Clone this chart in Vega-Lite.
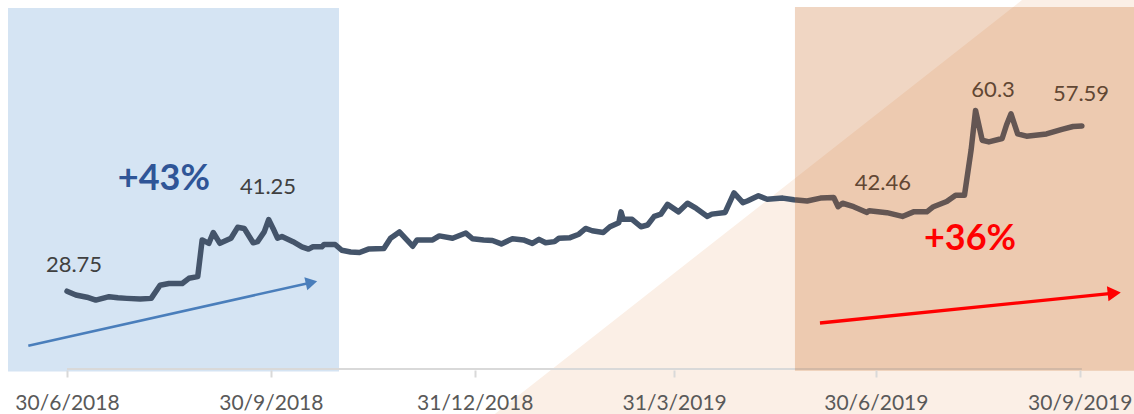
{
  "$schema": "https://vega.github.io/schema/vega-lite/v6.json",
  "width": 1134,
  "height": 370,
  "autosize": {"type": "none"},
  "padding": {"left": 0, "top": 0, "right": 0, "bottom": 44},
  "background": "white",
  "config": {"view": {"stroke": null}},
  "encoding": {
    "x": {
      "field": "date", "type": "temporal",
      "scale": {"type": "utc", "domain": [1527704928000, 1571918400000], "nice": false},
      "axis": {
        "values": [1530316800000, 1538265600000, 1546214400000, 1553990400000, 1561852800000, 1569801600000],
        "format": "%-d/%-m/%Y", "title": null, "domain": false, "grid": false,
        "ticks": true, "tickColor": "#d9d9d9", "tickSize": 7, "tickWidth": 2,
        "labelFont": "Lato", "labelFontSize": 21, "labelColor": "#595959", "labelPadding": 15,
        "labelFlush": false, "labelOverlap": false, "labelBound": false, "zindex": 1
      }
    },
    "y": {
      "field": "value", "type": "quantitative",
      "scale": {"domain": [15, 79.57], "zero": false, "nice": false},
      "axis": null
    }
  },
  "layer": [
    {
      "data": {"values": [{"date": "2018-06-03T09:00:00Z", "date2": "2018-10-30T18:00:00Z", "value": 78.18, "value2": 14.74}]},
      "mark": {"type": "rect", "color": "#d5e4f3"},
      "encoding": {"x2": {"field": "date2"}, "y2": {"field": "value2"}}
    },
    {
      "data": {"values": [
        {"date": "2019-01-09T02:00:00Z", "value": 7.32, "value2": 7.32},
        {"date": "2019-09-03T23:00:00Z", "value": 79.57, "value2": 7.32},
        {"date": "2019-10-30T00:00:00Z", "value": 79.57, "value2": 7.32}
      ]},
      "mark": {"type": "area", "color": "#fbefe6", "interpolate": "linear"},
      "encoding": {"y2": {"field": "value2"}}
    },
    {
      "data": {"values": [{"date": "2018-06-30T00:00:00Z", "date2": "2019-10-01T00:00:00Z", "value": 15.17}]},
      "mark": {"type": "rule", "color": "#d9d9d9", "strokeWidth": 2},
      "encoding": {"x2": {"field": "date2"}}
    },
    {
      "data": {"values": [
        {"date": "2018-06-30", "value": 28.75},
        {"date": "2018-07-04", "value": 28.1},
        {"date": "2018-07-09", "value": 27.7},
        {"date": "2018-07-13", "value": 27.2},
        {"date": "2018-07-19", "value": 27.8},
        {"date": "2018-07-23", "value": 27.6},
        {"date": "2018-07-27", "value": 27.5},
        {"date": "2018-08-02", "value": 27.4},
        {"date": "2018-08-07", "value": 27.5},
        {"date": "2018-08-11", "value": 29.8},
        {"date": "2018-08-15", "value": 30.1},
        {"date": "2018-08-21", "value": 30.1},
        {"date": "2018-08-24", "value": 31.0},
        {"date": "2018-08-28", "value": 31.3},
        {"date": "2018-08-30", "value": 37.7},
        {"date": "2018-09-02", "value": 37.1},
        {"date": "2018-09-04", "value": 39.0},
        {"date": "2018-09-07", "value": 37.1},
        {"date": "2018-09-12", "value": 38.0},
        {"date": "2018-09-15", "value": 39.9},
        {"date": "2018-09-18", "value": 39.7},
        {"date": "2018-09-22", "value": 37.2},
        {"date": "2018-09-24", "value": 37.4},
        {"date": "2018-09-27", "value": 39.1},
        {"date": "2018-09-29", "value": 41.25},
        {"date": "2018-10-01", "value": 39.7},
        {"date": "2018-10-03", "value": 38.0},
        {"date": "2018-10-05", "value": 38.3},
        {"date": "2018-10-10", "value": 37.4},
        {"date": "2018-10-14", "value": 36.5},
        {"date": "2018-10-17", "value": 36.1},
        {"date": "2018-10-19", "value": 36.5},
        {"date": "2018-10-23", "value": 36.5},
        {"date": "2018-10-24", "value": 36.9},
        {"date": "2018-10-29", "value": 36.9},
        {"date": "2018-11-01", "value": 35.9},
        {"date": "2018-11-05", "value": 35.6},
        {"date": "2018-11-09", "value": 35.5},
        {"date": "2018-11-13", "value": 36.1},
        {"date": "2018-11-20", "value": 36.2},
        {"date": "2018-11-23", "value": 38.0},
        {"date": "2018-11-27", "value": 39.1},
        {"date": "2018-12-03", "value": 36.6},
        {"date": "2018-12-05", "value": 37.7},
        {"date": "2018-12-12", "value": 37.7},
        {"date": "2018-12-15", "value": 38.4},
        {"date": "2018-12-21", "value": 38.0},
        {"date": "2018-12-27", "value": 38.9},
        {"date": "2018-12-30", "value": 37.9},
        {"date": "2019-01-04", "value": 37.7},
        {"date": "2019-01-08", "value": 37.6},
        {"date": "2019-01-12", "value": 37.0},
        {"date": "2019-01-17", "value": 37.9},
        {"date": "2019-01-22", "value": 37.7},
        {"date": "2019-01-26", "value": 37.1},
        {"date": "2019-01-29", "value": 37.8},
        {"date": "2019-02-01", "value": 37.2},
        {"date": "2019-02-05", "value": 37.4},
        {"date": "2019-02-07", "value": 38.0},
        {"date": "2019-02-12", "value": 38.1},
        {"date": "2019-02-16", "value": 38.7},
        {"date": "2019-02-19", "value": 39.7},
        {"date": "2019-02-22", "value": 39.3},
        {"date": "2019-02-27", "value": 39.0},
        {"date": "2019-03-02", "value": 40.0},
        {"date": "2019-03-06", "value": 40.7},
        {"date": "2019-03-07", "value": 42.6},
        {"date": "2019-03-08", "value": 41.3},
        {"date": "2019-03-12", "value": 41.3},
        {"date": "2019-03-16", "value": 40.0},
        {"date": "2019-03-19", "value": 40.3},
        {"date": "2019-03-22", "value": 41.8},
        {"date": "2019-03-25", "value": 42.2},
        {"date": "2019-03-28", "value": 43.9},
        {"date": "2019-04-02", "value": 42.6},
        {"date": "2019-04-06", "value": 44.1},
        {"date": "2019-04-10", "value": 43.2},
        {"date": "2019-04-15", "value": 41.8},
        {"date": "2019-04-17", "value": 42.2},
        {"date": "2019-04-23", "value": 42.5},
        {"date": "2019-04-27", "value": 45.9},
        {"date": "2019-05-01", "value": 44.2},
        {"date": "2019-05-03", "value": 44.5},
        {"date": "2019-05-08", "value": 45.4},
        {"date": "2019-05-12", "value": 44.8},
        {"date": "2019-05-19", "value": 45.0},
        {"date": "2019-05-24", "value": 44.7},
        {"date": "2019-05-30", "value": 44.5},
        {"date": "2019-06-05", "value": 45.0},
        {"date": "2019-06-11", "value": 45.1},
        {"date": "2019-06-13", "value": 43.5},
        {"date": "2019-06-15", "value": 44.1},
        {"date": "2019-06-20", "value": 43.5},
        {"date": "2019-06-26", "value": 42.5},
        {"date": "2019-06-27", "value": 42.8},
        {"date": "2019-07-05", "value": 42.46},
        {"date": "2019-07-12", "value": 41.8},
        {"date": "2019-07-17", "value": 42.6},
        {"date": "2019-07-23", "value": 42.6},
        {"date": "2019-07-26", "value": 43.5},
        {"date": "2019-08-01", "value": 44.4},
        {"date": "2019-08-05", "value": 45.5},
        {"date": "2019-08-09", "value": 45.5},
        {"date": "2019-08-12", "value": 53.4},
        {"date": "2019-08-14", "value": 60.3},
        {"date": "2019-08-17", "value": 55.1},
        {"date": "2019-08-20", "value": 54.8},
        {"date": "2019-08-26", "value": 55.4},
        {"date": "2019-08-28", "value": 57.8},
        {"date": "2019-08-30", "value": 59.7},
        {"date": "2019-09-02", "value": 56.2},
        {"date": "2019-09-06", "value": 55.8},
        {"date": "2019-09-15", "value": 56.2},
        {"date": "2019-09-22", "value": 57.0},
        {"date": "2019-09-27", "value": 57.5},
        {"date": "2019-10-01", "value": 57.59}
      ]},
      "mark": {"type": "line", "color": "#44546a", "strokeWidth": 5.5, "strokeJoin": "round", "strokeCap": "round"}
    },
    {
      "data": {"values": [
        {"date": "2018-07-03T04:00:00Z", "value": 33.32, "label": "28.75"},
        {"date": "2018-09-28T17:00:00Z", "value": 46.94, "label": "41.25"},
        {"date": "2019-07-03T05:00:00Z", "value": 47.64, "label": "42.46"},
        {"date": "2019-08-21T22:00:00Z", "value": 63.87, "label": "60.3"},
        {"date": "2019-09-30T14:00:00Z", "value": 63.17, "label": "57.59"}
      ]},
      "mark": {"type": "text", "font": "Lato", "fontSize": 22, "color": "#404040", "align": "center", "baseline": "middle"},
      "encoding": {"text": {"field": "label"}}
    },
    {
      "data": {"values": [{"date": "2019-05-24T12:00:00Z", "date2": "2019-10-30T00:00:00Z", "value": 78.35, "value2": 14.88}]},
      "mark": {"type": "rect", "color": "#c55a11", "opacity": 0.25},
      "encoding": {"x2": {"field": "date2"}, "y2": {"field": "value2"}}
    },
    {
      "data": {"values": [{"date": "2018-06-12T13:00:00Z", "date2": "2018-10-18T08:00:00Z", "value": 19.24, "value2": 30.27}]},
      "mark": {"type": "rule", "color": "#4a7ebb", "strokeWidth": 2.5},
      "encoding": {"x2": {"field": "date2"}, "y2": {"field": "value2"}}
    },
    {
      "data": {"values": [{"date": "2018-10-18T08:00:00Z", "value": 30.27}]},
      "mark": {"type": "point", "shape": "triangle-right", "size": 180, "angle": 347.4, "filled": true, "color": "#4a7ebb", "opacity": 1, "strokeWidth": 0}
    },
    {
      "data": {"values": [{"date": "2019-06-04T19:00:00Z", "date2": "2019-10-15T14:00:00Z", "value": 23.2, "value2": 28.42}]},
      "mark": {"type": "rule", "color": "#ff0000", "strokeWidth": 3.3},
      "encoding": {"x2": {"field": "date2"}, "y2": {"field": "value2"}}
    },
    {
      "data": {"values": [{"date": "2019-10-15T14:00:00Z", "value": 28.42}]},
      "mark": {"type": "point", "shape": "triangle-right", "size": 230, "angle": 354.2, "filled": true, "color": "#ff0000", "opacity": 1, "strokeWidth": 0}
    },
    {
      "data": {"values": [{"date": "2018-08-12T17:00:00Z", "value": 48.37, "label": "+43%"}]},
      "mark": {"type": "text", "font": "Lato", "fontSize": 36, "fontWeight": "bold", "color": "#2f5597", "align": "center", "baseline": "middle"},
      "encoding": {"text": {"field": "label"}}
    },
    {
      "data": {"values": [{"date": "2019-08-11T12:00:00Z", "value": 37.86, "label": "+36%"}]},
      "mark": {"type": "text", "font": "Lato", "fontSize": 36, "fontWeight": "bold", "color": "#ff0000", "align": "center", "baseline": "middle"},
      "encoding": {"text": {"field": "label"}}
    }
  ]
}
